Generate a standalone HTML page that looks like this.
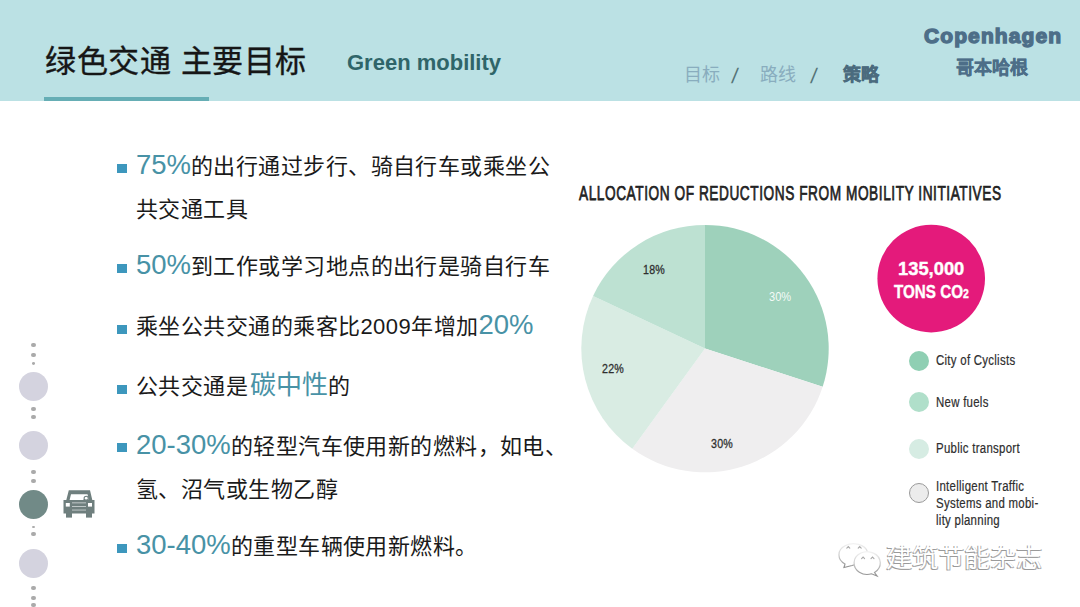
<!DOCTYPE html>
<html lang="zh-CN"><head><meta charset="utf-8">
<style>
*{margin:0;padding:0;box-sizing:border-box}
html,body{width:1080px;height:607px;overflow:hidden;background:#fff}
body{position:relative;font-family:"Liberation Sans",sans-serif;color:#1a1a1a}
.a{position:absolute;white-space:nowrap}
#hdr{position:absolute;left:0;top:0;width:1080px;height:101px;background:#bbe1e4}
#uline{position:absolute;left:44px;top:97px;width:165px;height:4px;background:#66aeb5}
.title{left:45px;top:46px;font-size:31px;letter-spacing:0.6px;--ls:0.6px;line-height:31px;color:#161616;-webkit-text-stroke:0.35px #161616}
.gm{left:347px;top:52px;font-size:22px;line-height:22px;font-weight:bold;color:#2f6569}
.nav{top:66px;font-size:18px;line-height:18px;color:#89adbe}
.navb{font-weight:bold;color:#4b6b7e;-webkit-text-stroke:0.5px #4b6b7e}
.sl{color:#557477;font-size:21px;top:67px;font-weight:normal;transform:skewX(-8deg)}
.cph{left:924px;top:25px;font-size:21px;line-height:21px;font-weight:bold;color:#4d6e88;letter-spacing:1.1px;-webkit-text-stroke:1.4px #4d6e88}
.cpz{left:956px;top:59px;font-size:18px;line-height:18px;font-weight:bold;color:#4d6e88;-webkit-text-stroke:0.5px #4d6e88}
.bul{position:absolute;left:117px;width:9.5px;height:9px;background:#3d97bd}
.tx{left:136px;font-size:22px;letter-spacing:0.44px;--ls:0.44px;line-height:22px;color:#1a1a1a}
.cj{display:inline-block}
i{display:inline-block;font-style:normal;text-align:center;width:calc(1em + var(--ls,0px))}
.tl{font-size:27.5px;letter-spacing:0;--ls:0px;color:#4892a6}
.dot{position:absolute;left:31.3px;width:4.4px;height:4.4px;border-radius:50%;background:#aaaaaa}
.big{position:absolute;left:19px;width:29px;height:29px;border-radius:50%;background:#d4d3df}
.leg{position:absolute;left:909px;width:20px;height:20px;border-radius:50%}
.lt{left:936px;font-size:14px;line-height:17px;color:#2e2e2e;letter-spacing:0.35px;-webkit-text-stroke:0.2px #2e2e2e;transform-origin:0 0;transform:scaleX(0.815)}
</style></head>
<body>
<div id="hdr"></div>
<div id="uline"></div>
<div class="a title"><span class="cj" style="width:126.4px"><i>绿</i><i>色</i><i>交</i><i>通</i></span> <span class="cj" style="width:126.4px"><i>主</i><i>要</i><i>目</i><i>标</i></span></div>
<div class="a gm">Green mobility</div>
<div class="a nav" style="left:684px"><i>目</i><i>标</i></div>
<div class="a nav sl" style="left:732px">/</div>
<div class="a nav" style="left:760px"><i>路</i><i>线</i></div>
<div class="a nav sl" style="left:811px">/</div>
<div class="a nav navb" style="left:843px"><i>策</i><i>略</i></div>
<div class="a cph">Copenhagen</div>
<div class="a cpz"><i>哥</i><i>本</i><i>哈</i><i>根</i></div>

<!-- bullets -->
<div class="bul" style="top:164px"></div>
<div class="a tx" style="top:154px"><span class="tl">75%</span><span class="cj" style="width:359.05px"><i>的</i><i>出</i><i>行</i><i>通</i><i>过</i><i>步</i><i>行</i><i>、</i><i>骑</i><i>自</i><i>行</i><i>车</i><i>或</i><i>乘</i><i>坐</i><i>公</i></span></div>
<div class="a tx" style="top:199px"><span class="cj" style="width:112.2px"><i>共</i><i>交</i><i>通</i><i>工</i><i>具</i></span></div>
<div class="bul" style="top:264px"></div>
<div class="a tx" style="top:254px"><span class="tl">50%</span><span class="cj" style="width:359.05px"><i>到</i><i>工</i><i>作</i><i>或</i><i>学</i><i>习</i><i>地</i><i>点</i><i>的</i><i>出</i><i>行</i><i>是</i><i>骑</i><i>自</i><i>行</i><i>车</i></span></div>
<div class="bul" style="top:325px"></div>
<div class="a tx" style="top:314px"><span class="cj" style="width:342.42px"><i>乘</i><i>坐</i><i>公</i><i>共</i><i>交</i><i>通</i><i>的</i><i>乘</i><i>客</i><i>比</i>2009<i>年</i><i>增</i><i>加</i></span><span class="tl">20%</span></div>
<div class="bul" style="top:385px"></div>
<div class="a tx" style="top:374px"><span class="cj" style="width:112.2px"><i>公</i><i>共</i><i>交</i><i>通</i><i>是</i></span><span class="tl cj" style="font-size:26px;width:80px;padding-left:2px"><i>碳</i><i>中</i><i>性</i></span><span class="cj" style="width:22.45px"><i>的</i></span></div>
<div class="bul" style="top:443px"></div>
<div class="a tx" style="top:434px"><span class="tl">20-30%</span><span class="cj" style="width:336.61px"><i>的</i><i>轻</i><i>型</i><i>汽</i><i>车</i><i>使</i><i>用</i><i>新</i><i>的</i><i>燃</i><i>料</i><i>，</i><i>如</i><i>电</i><i>、</i></span></div>
<div class="a tx" style="top:479px"><span class="cj" style="width:201.97px"><i>氢</i><i>、</i><i>沼</i><i>气</i><i>或</i><i>生</i><i>物</i><i>乙</i><i>醇</i></span></div>
<div class="bul" style="top:544px"></div>
<div class="a tx" style="top:534px"><span class="tl">30-40%</span><span class="cj" style="width:246.84px"><i>的</i><i>重</i><i>型</i><i>车</i><i>辆</i><i>使</i><i>用</i><i>新</i><i>燃</i><i>料</i><i>。</i></span></div>

<!-- left nav dots -->
<div class="dot" style="top:343px"></div>
<div class="dot" style="top:353px"></div>
<div class="dot" style="top:362px;left:31.8px;width:3.4px;height:2.6px"></div>
<div class="big" style="top:372px"></div>
<div class="dot" style="top:407px"></div>
<div class="dot" style="top:415px"></div>
<div class="big" style="top:431px"></div>
<div class="dot" style="top:470px"></div>
<div class="dot" style="top:479px"></div>
<div class="big" style="top:490px;background:#718a87"></div>
<div class="dot" style="top:525.5px;left:31.8px;width:3.4px;height:2.6px"></div>
<div class="dot" style="top:532px"></div>
<div class="big" style="top:549px"></div>
<div class="dot" style="top:586px"></div>
<div class="dot" style="top:596px"></div>
<div class="dot" style="top:603px"></div>

<!-- car -->
<svg class="a" style="left:60px;top:486px" width="40" height="36" viewBox="60 486 40 36">
<g fill="#6f7f7e">
<path d="M68.8 490.2 H90 L92.3 500 H94.5 V513.5 H63.5 V500 H66.3 Z M71 494.2 L69.6 500 H88.8 L87.5 494.2 Z" fill-rule="evenodd"/>
<rect x="66" y="513" width="6" height="4.6"/>
<rect x="86" y="513" width="6" height="4.6"/>
</g>
<circle cx="86.2" cy="498.3" r="2.1" fill="#fff" stroke="#6f7f7e" stroke-width="1.1"/>
<rect x="83" y="499.6" width="7" height="1" fill="#6f7f7e"/>
<g fill="#fff">
<rect x="65.8" y="503" width="4" height="3.6"/>
<rect x="88" y="503" width="4" height="3.6"/>
</g>
<g fill="#c9d0d0">
<rect x="72" y="502.4" width="14" height="0.9"/>
<rect x="72" y="506" width="14" height="0.9"/>
<rect x="72" y="509.6" width="14" height="0.9"/>
</g>
</svg>
<!-- chart -->
<div class="a" style="left:579px;top:183px;font-size:20px;line-height:20px;font-weight:normal;-webkit-text-stroke:0.75px #222;letter-spacing:0.8px;color:#222;transform-origin:0 0;transform:scaleX(0.684)">ALLOCATION OF REDUCTIONS FROM MOBILITY INITIATIVES</div>
<svg class="a" style="left:0;top:0" width="1080" height="607">
<g transform="translate(705 348.6)">
<path d="M0 0 L0.00 -123.70 A123.7 123.7 0 0 1 117.65 38.23 Z" fill="#9ed1bb"/>
<path d="M0 0 L117.65 38.23 A123.7 123.7 0 0 1 -72.71 100.08 Z" fill="#efeeef"/>
<path d="M0 0 L-72.71 100.08 A123.7 123.7 0 0 1 -111.93 -52.67 Z" fill="#d9ece3"/>
<path d="M0 0 L-111.93 -52.67 A123.7 123.7 0 0 1 -0.00 -123.70 Z" fill="#bde1d2"/>
</g>
<circle cx="931.2" cy="278.6" r="53.8" fill="#e41a7b"/>
</svg>
<div class="a" style="left:769px;top:290px;font-size:13px;line-height:13px;color:#f4fbf7;transform-origin:0 0;transform:scaleX(0.85)">30%</div>
<div class="a" style="left:643px;top:263px;font-size:13px;line-height:13px;color:#2e2e2e;-webkit-text-stroke:0.3px #2e2e2e;letter-spacing:0.3px;transform-origin:0 0;transform:scaleX(0.82)">18%</div>
<div class="a" style="left:602px;top:362px;font-size:13px;line-height:13px;color:#2e2e2e;-webkit-text-stroke:0.3px #2e2e2e;letter-spacing:0.3px;transform-origin:0 0;transform:scaleX(0.82)">22%</div>
<div class="a" style="left:711px;top:437px;font-size:13px;line-height:13px;color:#2e2e2e;-webkit-text-stroke:0.3px #2e2e2e;letter-spacing:0.3px;transform-origin:0 0;transform:scaleX(0.82)">30%</div>

<div class="a" style="left:898px;top:259px;font-size:19px;line-height:19px;font-weight:bold;color:#fff;-webkit-text-stroke:0.4px #fff;transform-origin:0 0;transform:scaleX(0.965)">135,000</div>
<div class="a" style="left:894px;top:282px;font-size:19px;line-height:19px;font-weight:bold;color:#fff;-webkit-text-stroke:0.4px #fff;transform-origin:0 0;transform:scaleX(0.8)">TONS CO<span style="font-size:13px">2</span></div>

<div class="leg" style="top:351px;background:#8fcfb3"></div>
<div class="leg" style="top:392px;background:#b0dfca"></div>
<div class="leg" style="top:439px;background:#d6ece3"></div>
<div class="leg" style="top:483px;background:#ececec;border:1px solid #9a9a9a"></div>
<div class="a lt" style="top:352px">City of Cyclists</div>
<div class="a lt" style="top:394px">New fuels</div>
<div class="a lt" style="top:440px">Public transport</div>
<div class="a lt" style="top:478px">Intelligent Traffic<br>Systems and mobi-<br>lity planning</div>

<!-- watermark -->
<svg class="a" style="left:836px;top:542px" width="48" height="38" viewBox="0 0 48 38">
<defs><linearGradient id="wg" x1="0" y1="0" x2="0" y2="1"><stop offset="0" stop-color="#f2f2f2"/><stop offset="0.45" stop-color="#d0d0d0"/><stop offset="1" stop-color="#8f8f8f"/></linearGradient></defs>
<g fill="#fff" stroke="url(#wg)" stroke-width="1.2">
<path d="M3 13 A14.5 10.8 0 1 1 28 20 L16 23.5 L8 25.5 L9 22 A14.5 10.8 0 0 1 3 13 Z"/>
<path d="M18.1 20.5 A13.1 11.4 0 1 1 38.5 30.5 L41 34 L35.5 31.8 A13.1 11.4 0 0 1 18.1 20.5 Z"/>
</g>
<g fill="none" stroke="#a9a9a9" stroke-width="1.1" stroke-linecap="round">
<path d="M10.8 6.2 L12.3 4.6 L13.8 6.2"/><path d="M22.2 6.2 L23.7 4.6 L25.2 6.2"/>
<path d="M25.6 16.6 L27.1 15 L28.6 16.6"/><path d="M35 16.6 L36.5 15 L38 16.6"/>
</g>
</svg>
<div class="a" style="left:886px;top:545px;font-size:26px;line-height:26px;color:#fff;text-shadow:-0.8px 0.8px 0.5px #9a9a9a,0.7px 0.5px 0.5px #b0b0b0"><i>建</i><i>筑</i><i>节</i><i>能</i><i>杂</i><i>志</i></div>
</body></html>
